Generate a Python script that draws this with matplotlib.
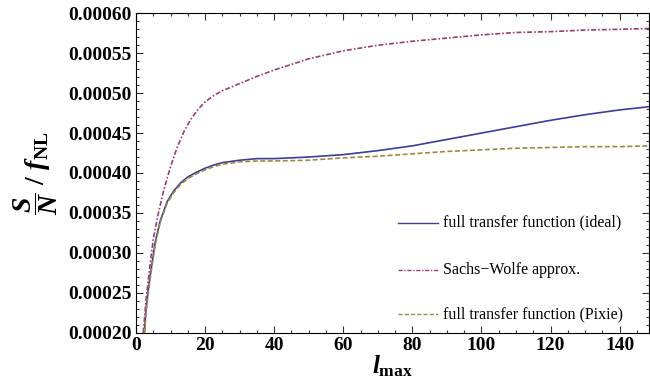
import numpy as np
import matplotlib
matplotlib.use("Agg")
from matplotlib import pyplot as plt
from matplotlib.ticker import MultipleLocator, FormatStrFormatter

plt.rcParams["font.family"] = "Liberation Serif"
plt.rcParams["mathtext.fontset"] = "custom"
plt.rcParams["mathtext.rm"] = "Liberation Serif:bold"
plt.rcParams["mathtext.it"] = "Liberation Serif:bold:italic"
plt.rcParams["mathtext.bf"] = "Liberation Serif:bold"

# full transfer function (ideal)
l_ideal = [2.4, 2.9, 3.5, 4.1, 5.5, 7, 9, 11, 13, 15, 17.5, 20, 22.5, 25, 30, 35,
           40, 50, 60, 70, 80, 90, 100, 110, 120, 130, 140, 148.5]
sn_ideal = [0.000200, 0.000229, 0.000252, 0.000271, 0.000312, 0.000340, 0.000364,
            0.000378, 0.000388, 0.000395, 0.000401, 0.000406, 0.000410, 0.000413,
            0.000416, 0.000418, 0.000418, 0.000420, 0.000423, 0.000428, 0.000434,
            0.000442, 0.000450, 0.000458, 0.000466, 0.000473, 0.000479, 0.000483]

# Sachs-Wolfe approx.
l_sw = [2.1, 3, 4, 5, 6.5, 8, 10, 12, 14, 16, 18, 20, 22.5, 25, 30, 35, 40, 50, 60,
        70, 80, 90, 100, 110, 120, 130, 140, 148.5]
sn_sw = [0.000200, 0.000245, 0.000283, 0.000317, 0.000350, 0.000378, 0.000408,
         0.000433, 0.000453, 0.000468, 0.000480, 0.000489, 0.000497, 0.000503,
         0.000512, 0.000521, 0.000529, 0.000543, 0.000553, 0.000560, 0.000565,
         0.000569, 0.000573, 0.000576, 0.000577, 0.000579, 0.000580, 0.000581]

# full transfer function (Pixie)
l_pixie = [2.5, 3.0, 3.6, 4.2, 5.6, 7, 9, 11, 13, 15, 17.5, 20, 22.5, 25, 30, 35,
           40, 50, 60, 70, 80, 90, 100, 110, 120, 130, 140, 148.5]
sn_pixie = [0.000200, 0.000229, 0.000252, 0.000271, 0.000311, 0.000338, 0.000362,
            0.000376, 0.000386, 0.000393, 0.000399, 0.000404, 0.000408, 0.000411,
            0.000414, 0.000415, 0.000415, 0.000416, 0.000419, 0.000421, 0.000424,
            0.000427, 0.000429, 0.000431, 0.000432, 0.000433, 0.000433, 0.000434]

c_ideal = "#3d3d99"
c_sw = "#993d71"
c_pixie = "#998b3d"

fig = plt.figure(figsize=(6.5, 3.88), dpi=100)
ax = fig.add_axes([136 / 650, 1 - 332.7 / 388, (649 - 136) / 650, (332.7 - 13.3) / 388])

ax.plot(l_ideal, sn_ideal, color=c_ideal, lw=1.2)
ax.plot(l_sw, sn_sw, color=c_sw, lw=1.2, dashes=(3, 1.2, 1, 1.2))
ax.plot(l_pixie, sn_pixie, color=c_pixie, lw=1.2, dashes=(3, 1.5))

ax.set_xlim(0, 148.5)
ax.set_ylim(0.0002, 0.0006)

ax.xaxis.set_major_locator(MultipleLocator(20))
ax.xaxis.set_minor_locator(MultipleLocator(5))
ax.yaxis.set_major_locator(MultipleLocator(0.00005))
ax.yaxis.set_minor_locator(MultipleLocator(0.00001))
ax.yaxis.set_major_formatter(FormatStrFormatter("%.5f"))

ax.tick_params(which="both", direction="in", top=True, right=True,
               labelsize=14, width=0.8, color="#333333", pad=3)
ax.tick_params(which="major", length=5)
ax.tick_params(which="minor", length=2.5)
for lab in ax.get_xticklabels() + ax.get_yticklabels():
    lab.set_fontweight("bold")
for s in ax.spines.values():
    s.set_linewidth(0.8)

ax.set_xlabel(r"$l_{\mathrm{max}}$", fontsize=18, labelpad=0)
ax.set_ylabel(r"$\dfrac{S}{N}\ /\ f_{\mathrm{NL}}$", fontsize=20, labelpad=6)

# legend, drawn by hand in axes coordinates
legend_rows = [
    ("full transfer function (ideal)", c_ideal, None, 222.7),
    (u"Sachs\u2212Wolfe approx.", c_sw, (3, 1.2, 1, 1.2), 270),
    ("full transfer function (Pixie)", c_pixie, (3, 1.5), 314),
]
for text, col, dash, ypx in legend_rows:
    y = (332.7 - ypx) / (332.7 - 13.3)
    x0 = (398 - 136) / 513
    x1 = (438 - 136) / 513
    kw = dict(color=col, lw=1.0, transform=ax.transAxes)
    if dash:
        kw["dashes"] = dash
    ax.plot([x0, x1], [y, y], **kw)
    ax.text((443 - 136) / 513, y, text, transform=ax.transAxes, fontsize=11.5,
            va="center", ha="left")

fig.savefig("out.png", dpi=100)
